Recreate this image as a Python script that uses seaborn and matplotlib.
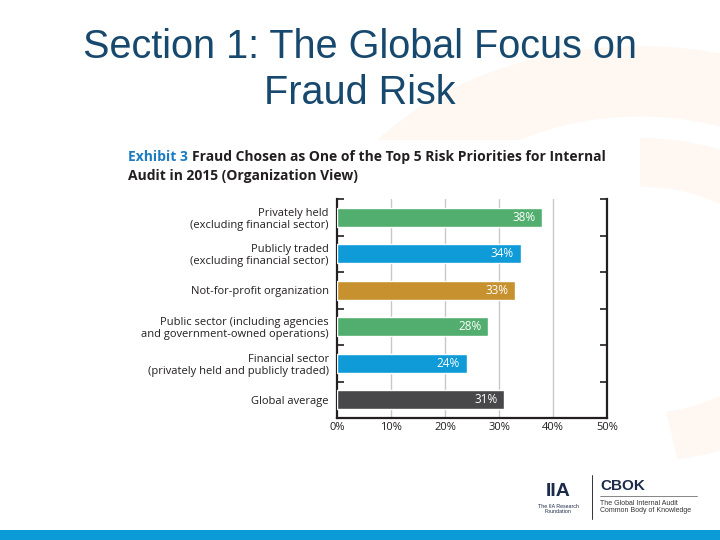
import matplotlib
matplotlib.use('Agg')
import matplotlib.pyplot as plt
import seaborn as sns
import pandas as pd
from matplotlib.patches import Rectangle, Wedge
from matplotlib.ticker import FixedLocator

# ── DATOS DEL GRÁFICO ──
categorias = [
    'Privately held\n(excluding financial sector)',
    'Publicly traded\n(excluding financial sector)',
    'Not-for-profit organization',
    'Public sector (including agencies\nand government-owned operations)',
    'Financial sector\n(privately held and publicly traded)',
    'Global average',
]
valores = [38, 34, 33, 28, 24, 31]
colores = ['#52AE6E', '#0E9BD8', '#C8912F', '#52AE6E', '#0E9BD8', '#48484A']
ticks_x = [0, 10, 20, 30, 40, 50]
etiquetas_x = ['0%', '10%', '20%', '30%', '40%', '50%']

titulo = 'Section 1: The Global Focus on\nFraud Risk'
exhibit = 'Exhibit 3'
subtitulo_1 = 'Fraud Chosen as One of the Top 5 Risk Priorities for Internal'
subtitulo_2 = 'Audit in 2015 (Organization View)'

df = pd.DataFrame({'categoria': categorias, 'valor': valores})

sns.set_style('white')
plt.rcParams['font.family'] = ['Open Sans', 'DejaVu Sans']

W, H = 720, 540
fig = plt.figure(figsize=(7.2, 5.4), dpi=100)
fig.patch.set_facecolor('white')

# ── FONDO: marca de agua suave ──
fig.patches.append(Wedge((640 / W, 1 - 300 / H), 0.47, 20, 175, width=0.13,
                         transform=fig.transFigure, facecolor='#FEF7F2',
                         edgecolor='none', zorder=0))
fig.patches.append(Wedge((640 / W, 1 - 300 / H), 0.30, -80, 90, width=0.09,
                         transform=fig.transFigure, facecolor='#FEF7F2',
                         edgecolor='none', zorder=0))
# panel blanco de la imagen del gráfico
fig.patches.append(Rectangle((120 / W, 1 - 445 / H), 500 / W, 305 / H,
                             transform=fig.transFigure, facecolor='white',
                             edgecolor='none', zorder=1))
# banda azul inferior
fig.patches.append(Rectangle((0, 0), 1, 10 / H, transform=fig.transFigure,
                             facecolor='#0B9BD6', edgecolor='none', zorder=1))

# ── TÍTULO ──
fig.text(0.5, 1 - 70 / H, titulo, ha='center', va='center', fontsize=28.5,
         color='#17486D', family=['Liberation Sans', 'DejaVu Sans'],
         linespacing=1.3)

# ── CABECERA DEL EXHIBIT ──
t = fig.text(128 / W, 1 - 157 / H, exhibit + ' ', ha='left', va='center',
             fontsize=10, fontweight='bold', color='#1B7DC0')
fig.canvas.draw()
bb = t.get_window_extent()
fig.text(bb.x1 / W, 1 - 157 / H, subtitulo_1, ha='left', va='center',
         fontsize=10, fontweight='bold', color='#231F20')
fig.text(128 / W, 1 - 176 / H, subtitulo_2, ha='left', va='center',
         fontsize=10, fontweight='bold', color='#231F20')

# ── BARRAS ──
ax = fig.add_axes([337 / W, 1 - 418 / H, 270 / W, 219 / H])
ax.set_zorder(3)
ax.set_facecolor('none')
sns.barplot(data=df, x='valor', y='categoria', hue='categoria',
            palette=colores, legend=False, width=0.52, ax=ax, zorder=3,
            saturation=1)

for i, v in enumerate(valores):
    ax.text(v - 1.2, i, f'{v}%', ha='right', va='center', color='white',
            fontsize=8.5, zorder=4)

ax.set_xlim(0, 50)
ax.set_ylim(5.5, -0.5)
ax.set_xticks(ticks_x)
ax.set_xticklabels(etiquetas_x, fontsize=8, color='#231F20')
ax.set_xlabel('')
ax.set_ylabel('')
for lab in ax.get_yticklabels():
    lab.set_fontsize(8)
    lab.set_color('#231F20')
    lab.set_linespacing(1.1)

for x in ticks_x[1:-1]:
    ax.axvline(x, color='#C8C8C8', lw=1, zorder=1)

ax.yaxis.set_minor_locator(FixedLocator([i - 0.5 for i in range(6)]))
ax.tick_params(axis='y', which='major', length=0, pad=6)
ax.tick_params(axis='y', which='minor', direction='in', length=5, width=1.2,
               color='#231F20', left=True, right=True)
ax.tick_params(axis='x', length=0, pad=3)

for s in ['left', 'right', 'bottom']:
    ax.spines[s].set_visible(True)
    ax.spines[s].set_color('#231F20')
    ax.spines[s].set_linewidth(1.6)
ax.spines['top'].set_visible(False)

# ── LOGOS ──
fig.text(558 / W, 1 - 492 / H, 'IIA', ha='center', va='center', fontsize=14,
         fontweight='bold', color='#1C2B4A', family=['Liberation Sans'])
fig.text(558 / W, 1 - 509 / H, 'The IIA Research\nFoundation', ha='center',
         va='center', fontsize=3.8, color='#1C2B4A', linespacing=1.0,
         family=['Liberation Sans'])
fig.add_artist(plt.Line2D([592 / W, 592 / W], [1 - 475 / H, 1 - 519 / H],
                          transform=fig.transFigure, color='#333333', lw=0.7))
fig.text(600 / W, 1 - 486 / H, 'CBOK', ha='left', va='center', fontsize=11,
         fontweight='bold', color='#1C2B4A', family=['Liberation Sans'])
fig.add_artist(plt.Line2D([600 / W, 697 / W], [1 - 496 / H, 1 - 496 / H],
                          transform=fig.transFigure, color='#555555', lw=0.5))
fig.text(600 / W, 1 - 507 / H, 'The Global Internal Audit\nCommon Body of Knowledge',
         ha='left', va='center', fontsize=5, color='#333333', linespacing=1.1,
         family=['Liberation Sans'])

plt.savefig('out.png', dpi=100)
plt.close()
